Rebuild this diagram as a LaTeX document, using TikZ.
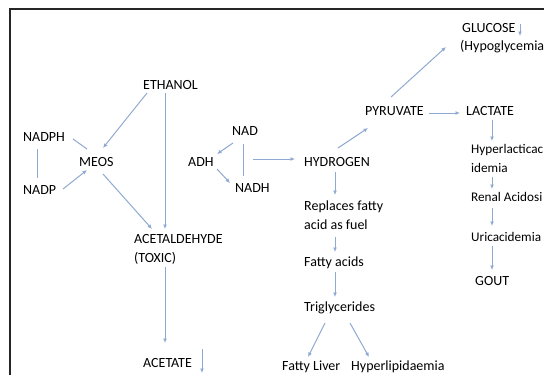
\documentclass[tikz,border=0pt]{standalone}
\usepackage{fontspec}
\setmainfont{Carlito}
\usetikzlibrary{arrows.meta}
\definecolor{linkc}{HTML}{8FAAD2}

\begin{document}
\begin{tikzpicture}[x=1pt,y=-1pt,font=\fontsize{14}{19.5}\selectfont,
  lbl/.style={anchor=base west,inner sep=0pt,align=left},
  edgelbl/.style={lbl,font=\fontsize{13.2}{19.5}\selectfont},
  ln/.style={draw=linkc,line width=1pt},
  arr/.style={ln,-{Latex[length=4.5pt,width=4pt]}}]
\useasboundingbox (0,0) rectangle (544,375);
\clip (0,0) rectangle (544,375);
\fill[white] (0,0) rectangle (544,375);
\draw[line width=2.2pt,black!85] (10,376)|-(545,9);
% left part
\node[lbl] (ethanol) at (143,89.5) {ETHANOL};
\node[lbl] (nadph) at (23,141.5) {NADPH};
\node[lbl] (meos) at (79,166.5) {MEOS};
\node[lbl] (nadp) at (23,194.5) {NADP};
\node[lbl] (acetald) at (134,262.5) {ACETALDEHYDE\\(TOXIC)};
\node[lbl] (acetate) at (143,367.5) {ACETATE};
\node[lbl] (nad) at (232,135.5) {NAD};
\node[lbl] (adh) at (188,166.5) {ADH};
\node[lbl] (nadh) at (235,192.5) {NADH};
\coordinate (adhrx) at (253,159);
% right part
\node[lbl] (hydrogen) at (304,166.5) {HYDROGEN};
\node[lbl] (pyruvate) at (365,115.5) {PYRUVATE};
\node[lbl] (lactate) at (466,115.5) {LACTATE};
\node[lbl] (glucose) at (462,32.5) {GLUCOSE};
\node[lbl] (hypo) at (460,50.5) {(Hypoglycemia};
\node[edgelbl] (hyperlac) at (471,172.5) {Hyperlacticac\\idemia};
\node[edgelbl] (renal) at (471,201.5) {Renal Acidosi};
\node[edgelbl] (uric) at (471,241.5) {Uricacidemia};
\node[lbl] (gout) at (475,285.5) {GOUT};
\node[lbl] (replaces) at (304,229.5) {Replaces fatty\\acid as fuel};
\node[lbl] (fattyacids) at (304,266.5) {Fatty acids};
\node[lbl] (trig) at (304,311.5) {Triglycerides};
\node[lbl] (fattyliver) at (282,370.5) {Fatty Liver};
\node[lbl] (hyperlip) at (351,370.5) {Hyperlipidaemia};
% connectors
\draw[arr] ([shift={(4,3.5)}]ethanol.base west)--([shift={(24,-18.5)}]meos.base west);
\draw[arr] ([shift={(22,3.5)}]ethanol.base west)--([shift={(31,-33.5)}]acetald.base west);
\draw[ln] ([shift={(50,-2.5)}]nadph.base west)--([shift={(8,-17.5)}]meos.base west);
\draw[ln] ([shift={(14,7.5)}]nadph.base west)--([shift={(14,-16.5)}]nadp.base west);
\draw[arr] ([shift={(40,-5.5)}]nadp.base west)--([shift={(8,3.5)}]meos.base west);
\draw[arr] ([shift={(24,7.5)}]meos.base west)--([shift={(18,-33.5)}]acetald.base west);
\draw[arr] ([shift={(31,4.5)}]acetald.base west)--([shift={(22,-24.5)}]acetate.base west);
\draw[arr] ([shift={(59,-18.5)}]acetate.base west)--++(0,24);
\draw[arr] ([shift={(1,7.5)}]nad.base west)--([shift={(29,-12.5)}]adh.base west);
\draw[arr] ([shift={(29,2.5)}]adh.base west)--([shift={(-5,-9.5)}]nadh.base west);
\draw[ln] ([shift={(11,8.5)}]nad.base west)--([shift={(8,-16.5)}]nadh.base west);
\draw[arr] (adhrx)--([shift={(-9,-7.5)}]hydrogen.base west);
\draw[arr] ([shift={(34,-18.5)}]hydrogen.base west)--([shift={(3,12.5)}]pyruvate.base west);
\draw[arr] ([shift={(26,-18.5)}]pyruvate.base west)--([shift={(-14,-3.5)}]hypo.base west);
\draw[arr] ([shift={(64,-2.5)}]pyruvate.base west)--([shift={(-6,-2.5)}]lactate.base west);
\draw[arr] ([shift={(58,-8.5)}]glucose.base west)--++(0,12);
\draw[arr] ([shift={(26,4.5)}]lactate.base west)--([shift={(21,-31.5)}]hyperlac.base west);
\draw[arr] ([shift={(21,4.5)}]hyperlac.base west)--([shift={(21,-12.5)}]renal.base west);
\draw[arr] ([shift={(21,6.5)}]renal.base west)--([shift={(21,-15.5)}]uric.base west);
\draw[arr] ([shift={(21,4.5)}]uric.base west)--([shift={(17,-15.5)}]gout.base west);
\draw[arr] ([shift={(31,5.5)}]hydrogen.base west)--([shift={(31,-34.5)}]replaces.base west);
\draw[arr] ([shift={(31,7.5)}]replaces.base west)--([shift={(31,-14.5)}]fattyacids.base west);
\draw[arr] ([shift={(31,5.5)}]fattyacids.base west)--([shift={(31,-14.5)}]trig.base west);
\draw[arr] ([shift={(21,11.5)}]trig.base west)--([shift={(26,-13.5)}]fattyliver.base west);
\draw[arr] ([shift={(46,11.5)}]trig.base west)--([shift={(18,-13.5)}]hyperlip.base west);
\end{tikzpicture}
\end{document}
